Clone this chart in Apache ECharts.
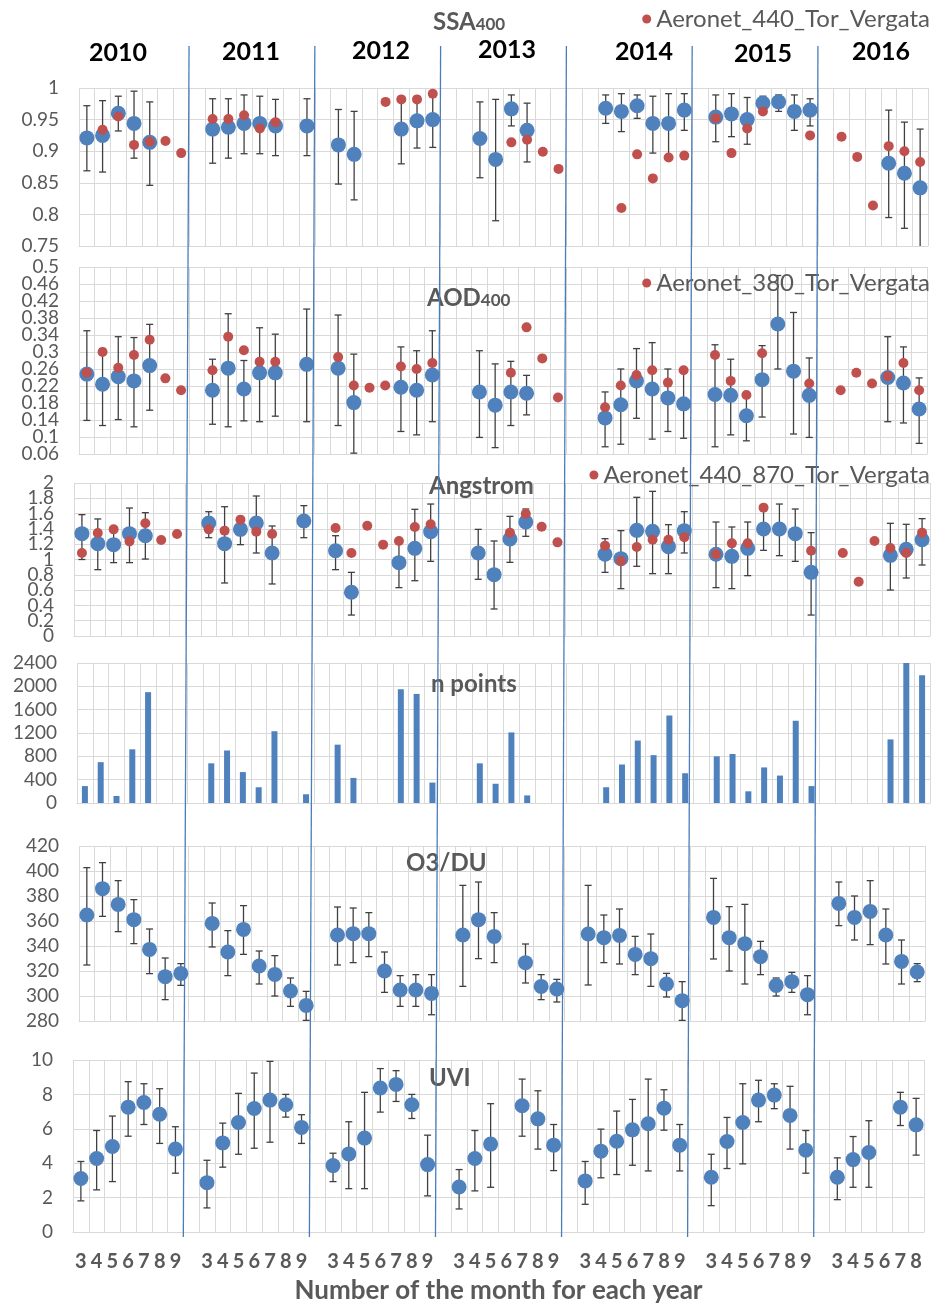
<!DOCTYPE html>
<html><head><meta charset="utf-8">
<script src="https://cdn.jsdelivr.net/npm/echarts@6/dist/echarts.min.js"></script>
<style>html,body{margin:0;padding:0;background:#fff}#c{width:932px;height:1305px}</style>
</head><body><div id="c"></div>
<script>
// ---------------- DATA ----------------
const YEARS = ['2010','2011','2012','2013','2014','2015','2016'];
const MONTHS = ['3','4','5','6','7','8','9'];
const MONTHS_LAST = ['3','4','5','6','7','8'];
const X_TITLE = 'Number of the month for each year';

// SSA400 (rows = years, columns = months 3..9)
const ssaMean = [
 [0.921,0.925,0.960,0.944,0.914,null,null],
 [0.935,0.938,0.944,0.944,0.940,null,0.940],
 [0.910,0.895,null,null,0.935,0.948,0.950],
 [null,0.920,0.887,0.967,0.933,null,null],
 [null,0.968,0.963,0.972,0.944,0.944,0.965],
 [0.954,0.959,0.950,0.976,0.978,0.963,0.965],
 [null,null,null,0.881,0.865,0.842]];
const ssaLow = [
 [0.869,0.867,0.932,0.889,0.846,null,null],
 [0.881,0.889,0.896,0.896,0.893,null,0.893],
 [0.848,0.823,null,null,0.880,0.905,0.906],
 [null,0.858,0.790,0.940,0.883,null,null],
 [null,0.944,0.931,0.952,0.897,0.889,0.933],
 [0.915,0.923,0.911,0.965,0.963,0.933,0.940],
 [null,null,null,0.795,0.778,0.740]];
const ssaHigh = [
 [0.972,0.980,0.987,0.995,0.978,null,null],
 [0.983,0.983,0.989,0.987,0.982,null,0.983],
 [0.966,0.963,null,null,0.982,0.986,0.986],
 [null,0.978,0.982,0.989,0.976,null,null],
 [null,0.989,0.991,0.989,0.987,0.991,0.991],
 [0.989,0.991,0.985,0.987,0.989,0.989,0.983],
 [null,null,null,0.965,0.946,0.935]];
const ssaAeronet = [
 [null,0.934,0.955,0.910,0.915,0.916,0.897],
 [0.951,0.951,0.957,0.936,0.946,null,null],
 [null,null,null,0.978,0.982,0.982,0.991],
 [null,null,null,0.914,0.918,0.899,0.872],
 [null,null,0.810,0.895,0.857,0.890,0.893],
 [0.952,0.897,0.936,0.963,null,null,0.925],
 [0.923,0.891,0.814,0.908,0.900,0.883]];

// AOD400
const aodMean = [
 [0.248,0.224,0.242,0.232,0.268,null,null],
 [0.210,0.262,0.213,0.251,0.251,null,0.271],
 [0.262,0.181,null,null,0.217,0.210,0.246],
 [null,0.206,0.175,0.206,0.203,null,null],
 [null,0.145,0.176,0.232,0.213,0.192,0.178],
 [0.200,0.198,0.150,0.235,0.366,0.255,0.198],
 [null,null,null,0.240,0.227,0.166]];
const aodLow = [
 [0.139,0.127,0.141,0.124,0.163,null,null],
 [0.130,0.124,0.138,0.136,0.149,null,0.136],
 [0.127,0.062,null,null,0.113,0.105,0.136],
 [null,0.099,0.075,0.127,0.152,null,null],
 [null,0.077,0.083,0.144,0.095,0.113,0.097],
 [0.077,0.105,0.091,0.147,0.260,0.107,0.099],
 [null,null,null,0.136,0.133,0.085]];
const aodHigh = [
 [0.350,0.308,0.336,0.334,0.365,null,null],
 [0.283,0.390,0.280,0.357,0.342,null,0.401],
 [0.387,0.295,null,null,0.312,0.303,0.350],
 [null,0.303,0.272,0.278,0.245,null,null],
 [null,0.206,0.260,0.308,0.322,0.260,0.257],
 [0.317,0.283,0.199,0.315,0.480,0.393,0.286],
 [null,null,null,0.336,0.312,0.239]];
const aodAeronet = [
 [0.251,0.300,0.263,0.293,0.329,0.238,0.210],
 [0.257,0.336,0.304,0.277,0.277,null,null],
 [0.288,0.221,0.216,0.221,0.266,0.260,0.274],
 [null,null,null,0.251,0.358,0.285,0.193],
 [null,0.170,0.221,0.246,0.257,0.228,0.257],
 [0.293,0.232,0.199,0.297,null,null,0.226],
 [0.210,0.251,0.226,0.243,0.274,0.210]];

// Angstrom
const angMean = [
 [1.338,1.207,1.194,1.338,1.311,null,null],
 [1.477,1.207,1.394,1.477,1.085,null,1.503],
 [1.115,0.571,null,null,0.959,1.146,1.364],
 [null,1.085,0.802,1.268,1.490,null,null],
 [null,1.068,1.011,1.381,1.368,1.168,1.377],
 [1.068,1.041,1.146,1.399,1.399,1.338,0.832],
 [null,null,null,1.054,1.133,1.259]];
const angLow = [
 [1.000,0.867,0.959,0.959,1.006,null,null],
 [1.285,0.693,1.194,1.085,0.680,null,1.285],
 [0.867,0.274,null,null,0.632,0.723,0.976],
 [null,0.741,0.353,0.963,1.303,null,null],
 [null,0.832,0.619,0.911,0.815,0.815,1.085],
 [0.632,0.619,0.789,1.120,1.050,0.976,0.274],
 [null,null,null,0.601,0.758,0.928]];
const angHigh = [
 [1.586,1.530,1.400,1.673,1.612,null,null],
 [1.625,1.690,1.520,1.830,1.438,null,1.704],
 [1.311,0.832,null,null,1.240,1.656,1.725],
 [null,1.394,1.242,1.564,1.660,null,null],
 [null,1.272,1.377,1.813,1.891,1.455,1.625],
 [1.490,1.425,1.490,1.640,1.725,1.660,1.351],
 [null,null,null,1.473,1.460,1.534]];
const angAeronet = [
 [1.085,1.346,1.394,1.237,1.473,1.255,1.333],
 [1.394,1.377,1.521,1.364,1.333,null,null],
 [1.412,1.085,1.442,1.194,1.242,1.425,1.460],
 [null,null,null,1.351,1.599,1.429,1.224],
 [null,1.181,0.980,1.163,1.259,1.259,1.290],
 [1.068,1.211,1.211,1.678,null,null,1.115],
 [1.085,0.710,1.242,1.150,1.085,1.351]];

// n points
const nPoints = [
 [290,700,120,920,1900,null,null],
 [680,900,530,270,1230,null,150],
 [1000,430,null,null,1950,1870,350],
 [null,680,330,1210,130,null,null],
 [null,270,660,1070,820,1500,510],
 [800,840,200,610,470,1410,290],
 [null,null,null,1090,2420,2190]];

// O3 / DU
const o3Mean = [
 [364.8,385.9,373.3,361.1,337.3,315.5,318.1],
 [358.1,335.2,353.3,324.0,317.3,304.0,292.5],
 [348.8,349.9,349.9,320.0,304.8,304.8,302.1],
 [348.8,361.1,347.7,null,326.7,307.7,305.6],
 [349.6,346.7,348.5,333.3,329.9,309.6,296.3],
 [362.9,346.7,341.9,331.5,308.5,311.5,301.1],
 [374.1,362.9,367.7,348.8,327.7,319.2]];
const o3Low = [
 [324.8,363.7,351.5,341.9,317.9,297.1,308.5],
 [339.2,316.3,333.3,309.6,300.0,291.7,280.5],
 [324.8,326.7,331.5,302.9,291.7,291.7,285.0],
 [307.7,329.9,326.7,null,310.4,297.1,295.2],
 [308.8,326.7,325.6,317.1,307.7,299.2,280.5],
 [329.6,320.0,309.6,317.1,300.0,302.9,285.0],
 [356.3,344.8,341.1,325.6,309.6,311.5]];
const o3High = [
 [402.7,406.7,392.3,377.1,353.6,330.4,325.9],
 [374.4,352.3,372.3,336.0,332.3,314.4,303.7],
 [371.2,370.4,366.7,335.2,316.3,317.1,317.1],
 [388.5,391.2,366.7,null,341.6,317.1,313.3],
 [388.5,364.8,369.6,347.7,349.6,318.1,311.5],
 [394.1,371.5,373.3,343.7,314.4,318.9,316.3],
 [391.2,380.0,392.3,369.6,344.8,325.9]];

// UVI
const uviMean = [
 [3.11,4.27,4.97,7.26,7.53,6.85,4.82],
 [2.87,5.18,6.37,7.18,7.67,7.40,6.08],
 [3.86,4.54,5.46,8.37,8.58,7.40,3.92],
 [2.62,4.27,5.11,null,7.34,6.58,5.05],
 [2.97,4.70,5.28,5.94,6.29,7.20,5.05],
 [3.18,5.26,6.37,7.67,7.96,6.78,4.76],
 [3.18,4.21,4.62,null,7.26,6.23]];
const uviLow = [
 [1.81,2.45,2.93,5.57,6.25,5.15,3.42],
 [1.40,3.77,4.52,4.87,5.22,6.68,5.15],
 [2.93,2.52,2.52,6.97,7.59,6.60,2.10],
 [1.34,2.39,2.60,null,5.57,4.82,3.57],
 [1.61,3.15,3.34,3.88,3.55,5.92,3.55],
 [1.53,3.69,3.96,6.41,7.17,4.82,3.42],
 [1.88,2.60,2.60,null,6.19,4.47]];
const uviHigh = [
 [4.10,5.90,6.74,8.74,8.62,8.33,6.12],
 [4.17,6.33,8.06,9.24,9.92,8.00,6.82],
 [4.58,6.41,8.12,9.50,9.38,8.00,5.63],
 [3.63,5.90,7.46,null,8.89,8.21,6.25],
 [4.10,5.98,7.03,7.71,8.89,8.27,6.25],
 [4.52,6.66,8.62,8.82,8.62,8.47,5.90],
 [4.31,5.55,6.47,null,8.12,7.77]];

const PANEL_TITLES = [['SSA','400'],['AOD','400'],['Angstrom',''],['n points',''],['O3/DU',''],['UVI','']];
const AERONET_NAMES = ['Aeronet_440_Tor_Vergata','Aeronet_380_Tor_Vergata','Aeronet_440_870_Tor_Vergata'];
const Y_MIN = [0.75, 0.06, 0, 0, 280, 0];
const Y_MAX = [1, 0.5, 2, 2400, 420, 10];
const Y_INT = [0.05, 0.04, 0.2, 400, 20, 2];

// ---------------- BUILD ----------------
const FONT = 'Lato';
const GRAY = '#595959';
const GRIDC = '#d9d9d9';
const BLUE = '#4F81BD';
const RED = '#C0504D';
const ERR = '#404040';

function flat(rows){ const out=[]; rows.forEach((r,i)=>{ r.forEach(v=>out.push(v)); if(i<rows.length-1) out.push(null); }); return out; }
const cats = [];
YEARS.forEach((y,i)=>{ (i<YEARS.length-1?MONTHS:MONTHS_LAST).forEach(m=>cats.push(y+'-'+m)); if(i<YEARS.length-1) cats.push(y+'-gap'); });

function pts(rows){ const a=flat(rows), d=[]; a.forEach((v,i)=>{ if(v!=null) d.push([i,v]); }); return d; }
function errs(lo,hi){ const l=flat(lo), h=flat(hi), d=[]; l.forEach((v,i)=>{ if(v!=null && h[i]!=null) d.push([i,v,h[i]]); }); return d; }
function ticks(k){ const out=[]; const n=Math.round((Y_MAX[k]-Y_MIN[k])/Y_INT[k]); for(let i=0;i<=n;i++) out.push(parseFloat((Y_MIN[k]+i*Y_INT[k]).toFixed(4))); return out; }

// layout (pixels)
const GRIDS = [
 {left:79, top:88, width:849, height:158},
 {left:79, top:267, width:848, height:187},
 {left:74, top:483, width:856, height:153},
 {left:77, top:663, width:853, height:140},
 {left:79, top:846, width:846, height:175},
 {left:73, top:1060, width:851, height:172}
];

function errRender(params, api){
  const i = api.value(0);
  const p1 = api.coord([i, api.value(1)]);
  const p2 = api.coord([i, api.value(2)]);
  const hw = 3.5;
  const st = {stroke: ERR, lineWidth: 1.3};
  return {type:'group', children:[
    {type:'line', shape:{x1:p1[0],y1:p1[1],x2:p1[0],y2:p2[1]}, style:st},
    {type:'line', shape:{x1:p1[0]-hw,y1:p1[1],x2:p1[0]+hw,y2:p1[1]}, style:st},
    {type:'line', shape:{x1:p1[0]-hw,y1:p2[1],x2:p1[0]+hw,y2:p2[1]}, style:st}
  ]};
}
// y tick labels drawn at the axis' own tick positions (avoids automatic hiding of crowded labels)
function tickLabelRender(params, api){
  const v = api.value(1);
  const y = api.coord([0, v])[1];
  return {type:'text', x: params.coordSys.x - 20, y: y,
    style:{text:String(v), fill:GRAY, font:'19px '+FONT, align:'right', verticalAlign:'middle'}};
}

const xAxes = GRIDS.map((g,k)=>({
  type:'category', gridIndex:k, data:cats, boundaryGap:true,
  axisLine:{show:true, lineStyle:{color:GRIDC}},
  axisTick:{show:false},
  axisLabel: k===5 ? {show:true, interval:0, margin:20, fontFamily:FONT, fontSize:20, fontWeight:'bold', color:GRAY,
      formatter:v=> v.endsWith('gap') ? '' : v.split('-')[1]} : {show:false},
  splitLine:{show:true, interval:0, lineStyle:{color:GRIDC, width:1}},
  name: k===5 ? X_TITLE : '', nameLocation:'middle', nameGap:46,
  nameTextStyle:{fontFamily:FONT, fontSize:26, fontWeight:'bold', color:GRAY}
}));
const yAxes = GRIDS.map((g,k)=>({
  type:'value', gridIndex:k, min:Y_MIN[k], max:Y_MAX[k], interval:Y_INT[k],
  axisLine:{show:false}, axisTick:{show:false}, axisLabel:{show:false},
  splitLine:{lineStyle:{color:GRIDC, width:1}}
}));

const MEANS = [ssaMean, aodMean, angMean, null, o3Mean, uviMean];
const LOWS = [ssaLow, aodLow, angLow, null, o3Low, uviLow];
const HIGHS = [ssaHigh, aodHigh, angHigh, null, o3High, uviHigh];
const AERS = [ssaAeronet, aodAeronet, angAeronet];

const series = [];
for (let k=0;k<6;k++){
  series.push({type:'custom', name:'ticks'+k, xAxisIndex:k, yAxisIndex:k, renderItem:tickLabelRender, clip:false, silent:true,
    encode:{x:0, y:1}, data: ticks(k).map(v=>[0, v]), z:1});
  if (k===3){
    series.push({type:'bar', name:'n points', xAxisIndex:3, yAxisIndex:3, barWidth:6, clip:true,
      itemStyle:{color:BLUE}, data: flat(nPoints).map(v=> v==null ? '-' : v)});
    continue;
  }
  series.push({type:'custom', name:'err'+k, xAxisIndex:k, yAxisIndex:k, renderItem:errRender, clip:true, z:2,
    encode:{x:0, y:[1,2]}, data: errs(LOWS[k], HIGHS[k]), silent:true});
  series.push({type:'scatter', name:'mean'+k, xAxisIndex:k, yAxisIndex:k, symbol:'circle', symbolSize:15, z:3,
    itemStyle:{color:BLUE, opacity:1}, data: pts(MEANS[k])});
  if (k<3){
    series.push({type:'scatter', name:AERONET_NAMES[k], xAxisIndex:k, yAxisIndex:k, symbol:'circle', symbolSize:10, z:4,
      itemStyle:{color:RED, opacity:1}, data: pts(AERS[k])});
  }
}

const TITLE_POS = [[433,20],[427,296],[429,484],[431,682],[406,861],[429,1076]];
const YEAR_POS = [[89,53],[222,52],[352,51],[478,50],[615,51.5],[734,54],[852,52]];
const richT = {
  a:{fontFamily:FONT, fontSize:24, fontWeight:'bold', color:GRAY, lineHeight:28, verticalAlign:'bottom'},
  b:{fontFamily:FONT, fontSize:17, fontWeight:'bold', color:GRAY, lineHeight:28, verticalAlign:'bottom', padding:[0,0,1,0]}
};
const titles = PANEL_TITLES.map((t,k)=>({
  text: t[1] ? '{a|'+t[0]+'}{b|'+t[1]+'}' : '{a|'+t[0]+'}',
  left: TITLE_POS[k][0], top: TITLE_POS[k][1]-14, padding:0,
  textStyle:{rich:richT}
})).concat(YEARS.map((y,i)=>({
  text:y, left:YEAR_POS[i][0], top:YEAR_POS[i][1]-14, padding:0,
  textStyle:{fontFamily:FONT, fontSize:25, fontWeight:'bold', color:'#000', lineHeight:28}
})));

const LEG_TOP = [7, 271, 463];
const legends = AERONET_NAMES.map((n,k)=>({
  data:[n], right:2, top:LEG_TOP[k], padding:0, icon:'circle', itemWidth:9, itemHeight:9, itemGap:5,
  selectedMode:false,
  textStyle:{fontFamily:FONT, fontSize:24, color:GRAY}
}));

const option = {
  backgroundColor:'#fff',
  animation:false,
  textStyle:{fontFamily:FONT},
  title: titles,
  legend: legends,
  grid: GRIDS,
  xAxis: xAxes,
  yAxis: yAxes,
  series: series
};

const chart = echarts.init(document.getElementById('c'), null, {renderer:'canvas'});
chart.setOption(option);

// year separators: boundary after month 9 of each year, from top panel to bottom panel
const SEP = [];
cats.forEach((c,i)=>{ if (c.endsWith('gap')) SEP.push(i); });
function boundaryX(ax, idx){
  const a = chart.convertToPixel({xAxisIndex:ax}, 0), b = chart.convertToPixel({xAxisIndex:ax}, 1);
  return chart.convertToPixel({xAxisIndex:ax}, idx) - (b-a)/2;
}
chart.setOption({graphic: SEP.map((idx,j)=>({
  type:'line', id:'sep'+j, z:100, silent:true,
  shape:{x1:boundaryX(0,idx), y1:46, x2:boundaryX(5,idx), y2:1237},
  style:{stroke:'#4A7EBB', lineWidth:1.3}
}))});
</script></body></html>
